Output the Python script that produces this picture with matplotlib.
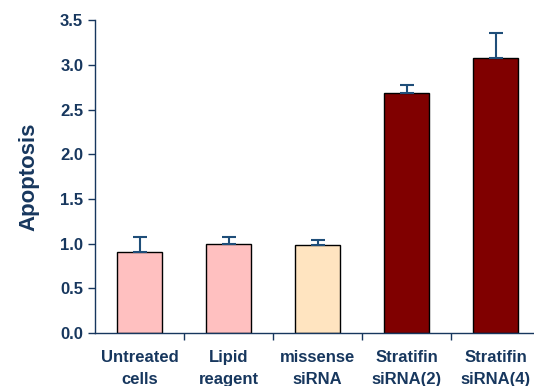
import numpy as np
import matplotlib.pyplot as plt

plt.rcParams['font.family'] = ['Liberation Sans', 'DejaVu Sans']

categories = ['Untreated\ncells', 'Lipid\nreagent', 'missense\nsiRNA',
              'Stratifin\nsiRNA(2)', 'Stratifin\nsiRNA(4)']
values = [0.91, 1.0, 0.98, 2.69, 3.08]
errors = [0.16, 0.07, 0.06, 0.08, 0.28]
colors = ['#ffc0c0', '#ffc0c0', '#ffe4c0', '#800000', '#800000']

navy = '#17375e'

fig = plt.figure(figsize=(5.34, 3.86), dpi=100)
ax = fig.add_axes([0.178, 0.137, 0.822, 0.811])

x = np.arange(len(categories))
ax.bar(x, values, width=0.5, color=colors, edgecolor='black', linewidth=1.0, zorder=2)
ax.errorbar(x, values, yerr=[np.zeros(len(values)), errors], fmt='none',
            ecolor='#1f4e79', elinewidth=1.5, capsize=5, capthick=1.5, zorder=3)

ax.set_xlim(-0.5, 4.43)
ax.set_ylim(0, 3.5)
ax.set_yticks(np.arange(0, 3.51, 0.5))
ax.set_yticklabels(['%.1f' % v for v in np.arange(0, 3.51, 0.5)],
                   fontsize=12, fontweight='bold', color=navy)
ax.set_xticks(x)
ax.set_xticklabels(categories, fontsize=12, fontweight='bold', color=navy,
                   linespacing=1.6)
ax.tick_params(axis='x', length=0, pad=12)
ax.set_xticks(np.arange(0.5, 4.5, 1), minor=True)
ax.tick_params(axis='x', which='minor', length=5, color=navy, width=1)
ax.tick_params(axis='y', length=5, color=navy, width=1)

for s in ['top', 'right']:
    ax.spines[s].set_visible(False)
for s in ['left', 'bottom']:
    ax.spines[s].set_color(navy)
    ax.spines[s].set_linewidth(1)

ax.set_ylabel('Apoptosis', fontsize=16, fontweight='bold', color=navy, labelpad=15)

fig.savefig('out.png', dpi=100)
